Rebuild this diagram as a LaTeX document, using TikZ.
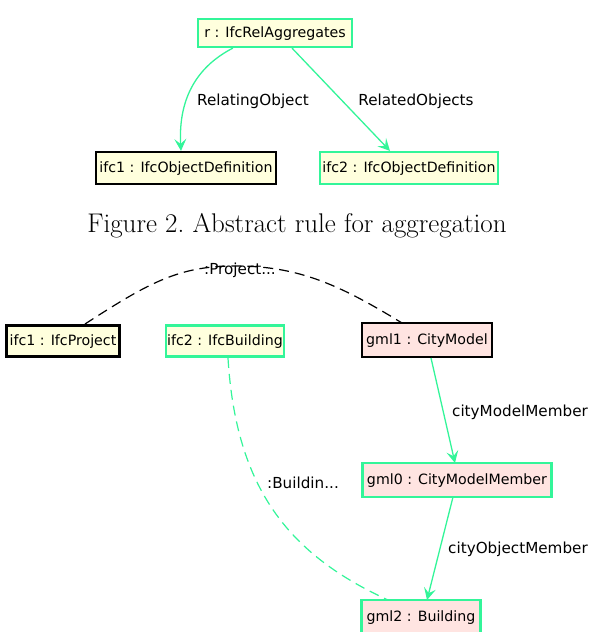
\documentclass[tikz,border=0pt]{standalone}
\usepackage{fontspec}
\newfontfamily\diagfont{DejaVu Sans}
\usetikzlibrary{arrows.meta}
\definecolor{linkgreen}{HTML}{33F599}
\definecolor{ifcfill}{HTML}{FFFFDD}
\definecolor{gmlfill}{HTML}{FFE4E1}
\begin{document}
\begin{tikzpicture}[x=1pt,y=-1pt,
  obj/.style={draw, line width=2.2pt, inner sep=0pt, minimum height=30pt,
    font=\diagfont\fontsize{14.2}{16}\selectfont, text depth=3pt, text height=11pt},
  ifcobj/.style={obj, fill=ifcfill},
  gmlobj/.style={obj, fill=gmlfill},
  greenb/.style={draw=linkgreen},
  blackb/.style={draw=black},
  link/.style={draw=linkgreen, line width=1.3pt, -{Stealth[length=12pt,width=12pt,inset=5pt]}},
  lbl/.style={font=\diagfont\fontsize{15.2}{17}\selectfont, inner sep=1pt},
]
\useasboundingbox (0,0) rectangle (590,632);

% aggregation rule
\node[ifcobj, greenb, minimum width=154pt, minimum height=28pt] (r) at (275,33) {r : IfcRelAggregates};
\node[ifcobj, blackb, minimum width=180pt, minimum height=32pt] (a1) at (186,168) {ifc1 : IfcObjectDefinition};
\node[ifcobj, greenb, minimum width=178pt, minimum height=32pt] (a2) at (409,168) {ifc2 : IfcObjectDefinition};

\draw[link] (r.south west)+(36,0) .. controls (200,65) and (178,95) .. (a1.north -| 181,0);
\draw[link] ([xshift=17pt]r.south) -- (a2.north -| 390,0);
\node[lbl] (lrel) at (253,101) {RelatingObject};
\node[lbl] (lrd) at (416,101) {RelatedObjects};

\node[font=\fontsize{27}{30}\selectfont] (cap) at (297,226) {Figure 2.\ Abstract rule for aggregation};

% instance correspondences
\node[ifcobj, blackb, minimum width=113pt, minimum height=31pt] (p) at (63,341) {ifc1 : IfcProject};
\node[ifcobj, greenb, minimum width=118pt, minimum height=31pt] (b) at (225,341) {ifc2 : IfcBuilding};
\node[gmlobj, blackb, minimum width=130pt, minimum height=34pt] (cm) at (427,340) {gml1 : CityModel};
\node[gmlobj, greenb, minimum width=189pt, minimum height=34pt] (cmm) at (457,480) {gml0 : CityModelMember};
\node[gmlobj, greenb, minimum width=119pt, minimum height=34pt] (bl) at (421,617) {gml2 : Building};

\coordinate (pt) at (85,324);
\coordinate (ct) at (402,323);
\draw[dashed, dash pattern=on 10pt off 6pt, line width=1.2pt] (pt) .. controls (150,282) and (180,265) .. (240,266) .. controls (300,267) and (340,285) .. (ct);
\node[lbl] (lp) at (240,270) {:Project...};

\coordinate (bb) at (228,358);
\coordinate (blt) at (388,600);
\draw[dashed, dash pattern=on 10pt off 6pt, draw=linkgreen, line width=1.2pt] (bb) .. controls (236,490) and (290,555) .. (blt);
\node[lbl] (lb) at (303,483) {:Buildin...};

\draw[link] (431,358) -- (455,463);
\draw[link] (453,497) -- (427,600);
\node[lbl] (lcm) at (520,412) {cityModelMember};
\node[lbl] (lco) at (518,549) {cityObjectMember};
\end{tikzpicture}
\end{document}
